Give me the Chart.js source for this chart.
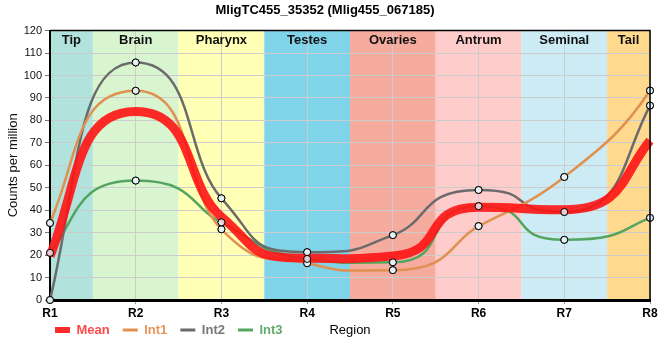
<!DOCTYPE html>
<html><head><meta charset="utf-8">
<script src="https://cdn.jsdelivr.net/npm/chart.js@4"></script>
<style>html,body{margin:0;padding:0;background:#fff}</style>
</head><body>
<canvas id="c" width="660" height="360"></canvas>
<script>
const regions = ['R1','R2','R3','R4','R5','R6','R7','R8'];
const meanValues = [19.5, 84, 37, 18.6, 19.6, 41.3, 40.2, 71];
const int1Values = [34.3, 93.2, 31.5, 16.4, 13.3, 32.9, 54.8, 93.3];
const int2Values = [0, 105.8, 45.3, 21.3, 28.9, 49.0, 39.2, 86.6];
const int3Values = [21.0, 53.2, 34.6, 18.3, 16.8, 41.8, 26.8, 36.6];
const bandLabels = ['Tip','Brain','Pharynx','Testes','Ovaries','Antrum','Seminal','Tail'];
const bandColors = ['#b2e2dc','#d8f5cf','#ffffb5','#80d4ea','#f5ab9e','#ffcccc','#cdebf5','#fed98e'];
const chartTitle = 'MligTC455_35352 (Mlig455_067185)';

const bandsPlugin = {
  id: 'bands',
  afterLayout(chart) {
    const lg = chart.legend;
    lg.left = 42;
    const h = lg.bottom - lg.top;
    lg.top = 310.5;
    lg.bottom = lg.top + h;
  },
  beforeDraw(chart) {
    const {ctx, chartArea: a, scales: {x}} = chart;
    ctx.save();
    bandLabels.forEach((lab, i) => {
      const x0 = Math.max(a.left, x.getPixelForValue(i - 0.5));
      const x1 = Math.min(a.right, x.getPixelForValue(i + 0.5));
      ctx.fillStyle = bandColors[i];
      ctx.fillRect(x0, a.top, x1 - x0, a.bottom - a.top);
    });
    ctx.restore();
  },
  beforeDatasetsDraw(chart) {
    const {ctx, chartArea: a, scales: {x}} = chart;
    ctx.save();
    ctx.font = 'bold 13px "Liberation Sans", Arial, sans-serif';
    ctx.fillStyle = '#111';
    ctx.textAlign = 'center';
    ctx.textBaseline = 'middle';
    bandLabels.forEach((lab, i) => {
      const x0 = Math.max(a.left, x.getPixelForValue(i - 0.5));
      const x1 = Math.min(a.right, x.getPixelForValue(i + 0.5));
      ctx.fillText(lab, (x0 + x1) / 2, a.top + 10);
    });
    ctx.restore();
  },
  // Shape the smoothing: flatter plateaus at local extremes, steeper transitions
  beforeDatasetDraw(chart, args) {
    const line = args.meta.dataset;
    if (!line) return;
    line._pointsUpdated = false;
    line.updateControlPoints(chart.chartArea, 'x');
    const pts = line.points;
    const n = pts.length;
    for (let i = 0; i < n; i++) {
      const p = pts[i], prev = pts[i - 1], next = pts[i + 1];
      let m = next ? (p.cp2y - p.y) / (p.cp2x - p.x) : (p.y - p.cp1y) / (p.x - p.cp1x);
      let a = 1 / 3;
      if (prev && next) {
        const s1 = (p.y - prev.y) / (p.x - prev.x);
        const s2 = (next.y - p.y) / (next.x - p.x);
        const den = Math.max(Math.abs(s1), Math.abs(s2));
        const w = den > 0 ? 1 - Math.min(1, Math.abs(m) / den) : 1;
        a = 1 / 3 + 0.37 * w;
      } else {
        m *= 1.5;
      }
      if (prev) { const d = a * (p.x - prev.x); p.cp1x = p.x - d; p.cp1y = p.y - d * m; }
      if (next) { const d = a * (next.x - p.x); p.cp2x = p.x + d; p.cp2y = p.y + d * m; }
    }
    line._path = undefined;
  },
  afterDatasetsDraw(chart) {
    const ctx = chart.ctx;
    chart.data.datasets.forEach((ds, i) => {
      if (ds.order === 1) {
        chart.getDatasetMeta(i).data.forEach(p => p.draw(ctx, chart.chartArea));
      }
    });
  },
  afterDraw(chart) {
    const {ctx, chartArea: a} = chart;
    ctx.save();
    ctx.strokeStyle = '#000';
    ctx.lineWidth = 1.5;
    ctx.beginPath();
    ctx.moveTo(a.left, a.top);
    ctx.lineTo(a.right, a.top);
    ctx.lineTo(a.right, a.bottom);
    ctx.stroke();
    ctx.restore();
  }
};

const pointBg = 'rgba(232,244,250,0.8)';
function intSet(label, data, color, textColor) {
  return {
    label, data, order: 1,
    borderColor: color, borderWidth: 2.5,
    cubicInterpolationMode: 'monotone',
    pointRadius: 3.5, pointBorderWidth: 1, pointBorderColor: '#000',
    pointBackgroundColor: pointBg, clip: 6,
    legendLineWidth: 3, legendTextColor: textColor
  };
}

new Chart(document.getElementById('c'), {
  type: 'line',
  data: {
    labels: regions,
    datasets: [
      { label: 'Mean', data: meanValues, order: 0,
        borderColor: 'rgba(255,20,20,0.9)', borderWidth: 9,
        cubicInterpolationMode: 'monotone', pointRadius: 0,
        legendLineWidth: 6, legendTextColor: '#ff4a4a' },
      intSet('Int1', int1Values, '#e0904f', '#e8955a'),
      intSet('Int2', int2Values, '#6b6b6b', '#777777'),
      intSet('Int3', int3Values, '#55a560', '#62ab6e')
    ]
  },
  options: {
    responsive: false,
    animation: false,
    devicePixelRatio: 1,
    layout: { padding: { left: 0, right: 10, top: 0, bottom: 2 } },
    plugins: {
      tooltip: { enabled: false },
      title: {
        display: true, text: chartTitle, color: '#000',
        font: { family: '"Liberation Sans", Arial, sans-serif', size: 13, weight: 'bold' },
        padding: { top: 3, bottom: 12 }
      },
      legend: {
        position: 'bottom', align: 'start',
        labels: {
          usePointStyle: true, pointStyleWidth: 15, padding: 13,
          font: { family: '"Liberation Sans", Arial, sans-serif', size: 13, weight: 'bold' },
          generateLabels(chart) {
            const items = Chart.defaults.plugins.legend.labels.generateLabels(chart);
            items.forEach(it => {
              const ds = chart.data.datasets[it.datasetIndex];
              it.pointStyle = 'line';
              it.strokeStyle = ds.borderColor;
              it.fillStyle = ds.borderColor;
              it.lineWidth = ds.legendLineWidth;
              it.fontColor = ds.legendTextColor;
            });
            return items;
          }
        }
      }
    },
    scales: {
      x: {
        type: 'category',
        offset: false,
        grid: { color: '#cccccc', lineWidth: 1, tickLength: 4, tickColor: '#999' },
        border: { color: '#000', width: 3 },
        ticks: { color: '#000', padding: 2, maxRotation: 0,
          font: { family: '"Liberation Sans", Arial, sans-serif', size: 12, weight: 'bold' } },
        title: { display: true, text: 'Region', color: '#000',
          font: { family: '"Liberation Sans", Arial, sans-serif', size: 13 },
          padding: { top: 0, bottom: -16 } },
        afterFit(s) { s.height = 22; }
      },
      y: {
        min: 0, max: 120,
        grid: { color: '#cccccc', lineWidth: 1, tickLength: 5, tickColor: '#777' },
        border: { color: '#000', width: 2 },
        ticks: { stepSize: 10, color: '#111', padding: 3,
          font: { family: '"Liberation Sans", Arial, sans-serif', size: 11 } },
        title: { display: true, text: 'Counts per million', color: '#111',
          font: { family: '"Liberation Sans", Arial, sans-serif', size: 13 },
          padding: { top: 6, bottom: 0 } },
        afterFit(s) { s.width = 50; }
      }
    }
  },
  plugins: [bandsPlugin]
});
</script>
</body></html>
